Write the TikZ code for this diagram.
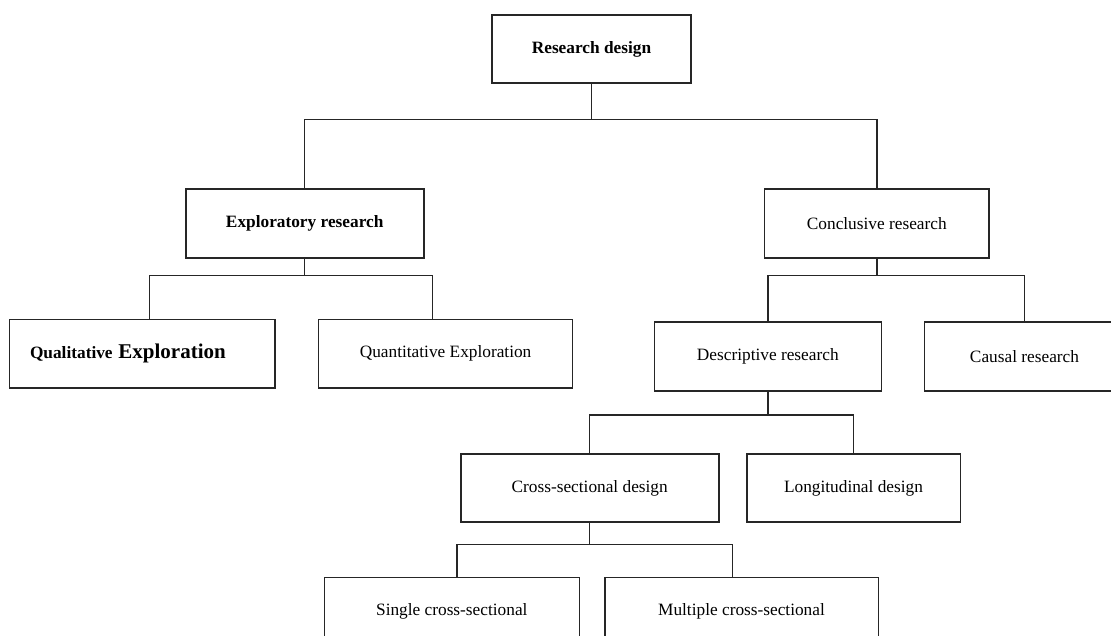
\documentclass[tikz,border=0pt]{standalone}
\usepackage{fontspec}
\setmainfont{Liberation Serif}

\begin{document}
\begin{tikzpicture}[x=1pt, y=-1pt, line width=1.6pt, draw=black!85,
    box/.style={draw, rectangle, inner sep=0pt, minimum height=68.5pt,
        font=\fontsize{17.3}{20}\selectfont},
    link/.style={line width=1.4pt}]
        \path[use as bounding box, clip] (0,0) rectangle (1111,635);

        % Nodes
        \node (root) [box, minimum width=199pt, font=\fontsize{17.3}{20}\selectfont\bfseries] at (591.5,49) {Research design};

        \node (expl) [box, minimum width=238pt, font=\fontsize{17.3}{20}\selectfont\bfseries] at (304.7,223.5) {Exploratory research};
        \node (concl) [box, minimum width=224.3pt, right of=expl, node distance=572.1pt] {Conclusive research};

        \node (qual) [box, text width=224pt, inner xsep=20.7pt, align=left] at (142,353.7)
            {\textbf{Qualitative} {\fontsize{21}{24}\selectfont\textbf{Exploration}}};
        \node (quant) [box, minimum width=254pt, right of=qual, node distance=303.6pt] {Quantitative Exploration};

        \node (desc) [box, minimum width=227pt] at (767.8,356.5) {Descriptive research};
        \node (causal) [box, minimum width=200pt, right of=desc, node distance=256.7pt] {Causal research};

        \node (cross) [box, minimum width=258pt] at (589.7,488) {Cross-sectional design};
        \node (longi) [box, minimum width=213.6pt, right of=cross, node distance=263.8pt] {Longitudinal design};

        \node (single) [box, minimum width=255pt] at (451.8,611.8) {Single cross-sectional};
        \node (multi) [box, minimum width=273.6pt, right of=single, node distance=289.7pt] {Multiple cross-sectional};

        % Edges
        \draw[link] (root.south) -- ++(0,35.5) coordinate (rb);
        \draw[link] (expl.north) |- (rb) -| (concl.north);

        \draw[link] (expl.south) -- ++(0,17) coordinate (eb);
        \draw[link] ([xshift=7.7pt]qual.north) |- (eb) -| ([xshift=-12.9pt]quant.north);

        \draw[link] (concl.south) -- ++(0,16.7) coordinate (cb);
        \draw[link] (desc.north) |- (cb) -| (causal.north);

        \draw[link] (desc.south) -- ++(0,23.6) coordinate (db);
        \draw[link] (cross.north) |- (db) -| (longi.north);

        \draw[link] (cross.south) -- ++(0,21.4) coordinate (xb);
        \draw[link] ([xshift=5.2pt]single.north) |- (xb) -| ([xshift=-8.8pt]multi.north);
    \end{tikzpicture}
\end{document}
